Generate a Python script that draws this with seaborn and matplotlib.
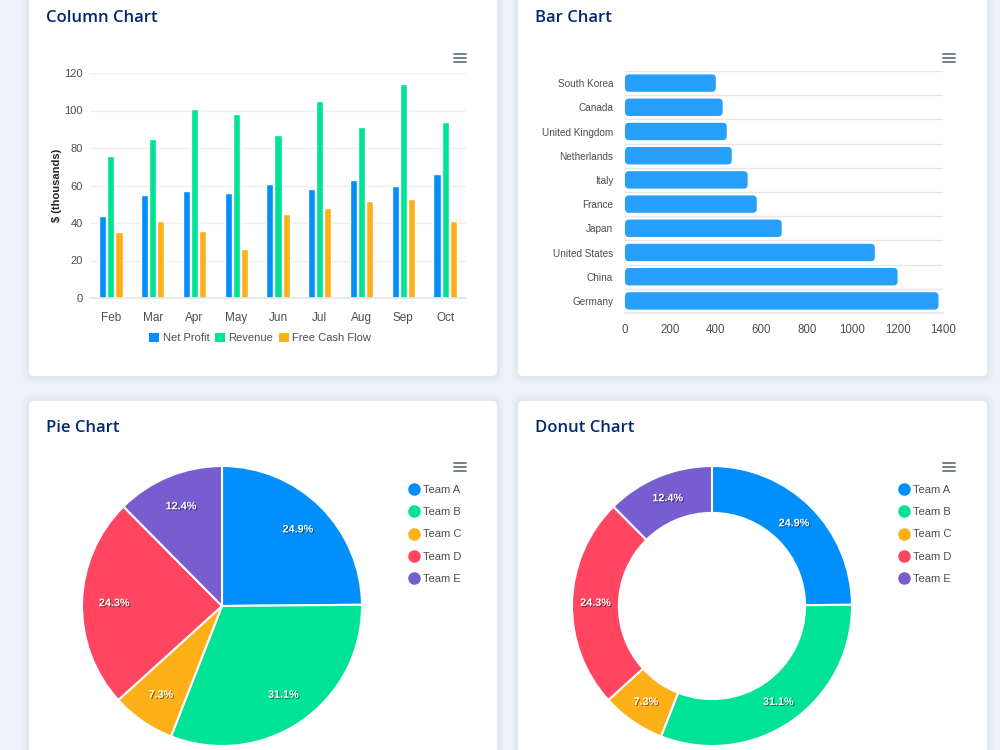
import numpy as np, pandas as pd, matplotlib
matplotlib.use("Agg"); import matplotlib.pyplot as plt
import matplotlib.patheffects as pe
from matplotlib.patches import FancyBboxPatch
from matplotlib.lines import Line2D
import seaborn as sns

sns.set_theme(style="white")
plt.rcParams["font.family"] = ["Liberation Sans", "DejaVu Sans"]

# ---- data ----
months = ["Feb", "Mar", "Apr", "May", "Jun", "Jul", "Aug", "Sep", "Oct"]
net_profit = [44, 55, 57, 56, 61, 58, 63, 60, 66]
revenue = [76, 85, 101, 98, 87, 105, 91, 114, 94]
free_cash_flow = [35, 41, 36, 26, 45, 48, 52, 53, 41]
series_names = ["Net Profit", "Revenue", "Free Cash Flow"]

countries = ["South Korea", "Canada", "United Kingdom", "Netherlands", "Italy",
             "France", "Japan", "United States", "China", "Germany"]
country_values = [400, 430, 448, 470, 540, 580, 690, 1100, 1200, 1380]

teams = ["Team A", "Team B", "Team C", "Team D", "Team E"]
team_values = [44, 55, 13, 43, 22]

COLS = ["#008FFB", "#00E396", "#FEB019", "#FF4560", "#775DD0"]
BG = "#edf1f9"; TITLE = "#012970"; LBL = "#4a4f52"; GRID = "#e6e6e6"

W, H = 1000, 750
def box(l, t, r, b):
    return [l / W, 1 - b / H, (r - l) / W, (b - t) / H]

fig = plt.figure(figsize=(10, 7.5), dpi=100, facecolor=BG)

# ---- cards (pixel layout, drawn in inches) ----
for l, t, r, b in [(29, -30, 497, 376), (518, -30, 987, 376), (29, 401, 497, 790), (518, 401, 987, 790)]:
    for k, a in [(6, 0.025), (3, 0.04)]:
        fig.add_artist(FancyBboxPatch(((l - k) / 100, (H - b - k) / 100), (r - l + 2 * k) / 100, (b - t + 2 * k) / 100,
                                      boxstyle="round,pad=0,rounding_size=0.08", transform=fig.dpi_scale_trans,
                                      fc="#5a6b9a", ec="none", alpha=a, zorder=0))
    fig.add_artist(FancyBboxPatch((l / 100, (H - b) / 100), (r - l) / 100, (b - t) / 100,
                                  boxstyle="round,pad=0,rounding_size=0.05", transform=fig.dpi_scale_trans,
                                  fc="white", ec="none", zorder=0.5))

for x, y, s in [(46, 18, "Column Chart"), (535, 18, "Bar Chart"), (46, 428, "Pie Chart"), (535, 428, "Donut Chart")]:
    fig.text(x / W, 1 - y / H, s, ha="left", va="center", fontsize=12, color=TITLE,
             family=["Open Sans", "DejaVu Sans"], fontweight="semibold")

for cx, cy in [(460, 58), (949, 58), (460, 467), (949, 467)]:
    for dy in (-4, 0, 4):
        fig.add_artist(Line2D([(cx - 6) / W, (cx + 6) / W], [1 - (cy + dy) / H] * 2,
                              transform=fig.transFigure, color="#6E8192", lw=1.4))

# ---- column chart ----
df = pd.DataFrame({"month": months * 3,
                   "value": net_profit + revenue + free_cash_flow,
                   "series": np.repeat(series_names, len(months))})
ax = fig.add_axes(box(90, 73, 466, 298), zorder=2)
ax.patch.set_alpha(0)
sns.barplot(data=df, x="month", y="value", hue="series", palette=COLS[:3], width=0.58, gap=0.12,
            saturation=1, ax=ax, legend=False)
ax.set_ylim(0, 120); ax.set_xlim(-0.5, len(months) - 0.5)
ax.set_yticks(range(0, 121, 20))
ax.grid(axis="y", color="#efefef", lw=1); ax.set_axisbelow(True)
for s in ["top", "right", "left"]:
    ax.spines[s].set_visible(False)
ax.spines["bottom"].set_color(GRID)
ax.set_xticks(np.arange(-0.5, len(months), 1), minor=True)
ax.tick_params(axis="x", which="minor", length=6, color=GRID, width=1)
ax.tick_params(axis="x", which="major", length=0, pad=10, labelsize=8.5, labelcolor=LBL)
ax.tick_params(axis="y", length=0, pad=5, labelsize=8, labelcolor=LBL)
ax.set_xlabel(""); ax.set_ylabel("$ (thousands)", fontsize=8, fontweight="bold", color="#222", labelpad=2)
handles = [plt.Rectangle((0, 0), 1, 1, fc=c, ec="none") for c in COLS[:3]]
fig.legend(handles, series_names, loc="center", bbox_to_anchor=(260 / W, 1 - 338 / H), ncol=3, frameon=False,
           fontsize=8, labelcolor=LBL, handlelength=0.9, handleheight=0.9, handletextpad=0.3, columnspacing=0.5)

# ---- bar chart ----
ax = fig.add_axes(box(625, 71, 943, 313), zorder=2)
ax.patch.set_alpha(0)
sns.barplot(x=country_values, y=countries, orient="h", color="#26A0FC", saturation=1, width=0.72, ax=ax)
ax.set_xlim(0, 1400); ax.set_ylim(len(countries) - 0.5, -0.5)
ax.set_xticks(range(0, 1401, 200))
# rounded bar ends
ux = 1400 / 318; uy = 1 / 24.2
for p in list(ax.patches):
    x0, y0, w, h = p.get_x(), p.get_y(), p.get_width(), p.get_height()
    ax.add_patch(FancyBboxPatch((x0, y0), w, h, boxstyle=f"round,pad=0,rounding_size={4 * ux}",
                                mutation_aspect=uy / ux, fc=p.get_facecolor(), ec="none"))
    p.set_visible(False)
ax.set_yticks(np.arange(-0.5, len(countries), 1), minor=True)
ax.grid(axis="y", which="minor", color=GRID, lw=1); ax.grid(axis="y", which="major", visible=False)
ax.set_axisbelow(True)
for s in ["top", "right", "left"]:
    ax.spines[s].set_visible(False)
ax.spines["bottom"].set_color(GRID)
ax.tick_params(axis="y", which="both", length=0, pad=8.5, labelsize=7.2, labelcolor=LBL)
ax.tick_params(axis="x", length=0, pad=8, labelsize=8.3, labelcolor=LBL)

# ---- pie & donut ----
shadow = [pe.SimplePatchShadow(offset=(0.8, -0.8), shadow_rgbFace="black", alpha=0.45), pe.Normal()]
for (l, r), hole in [((82, 362), None), ((572, 852), 0.335)]:
    ax = fig.add_axes(box(l, 466, r, 746), zorder=2)
    ax.patch.set_alpha(0)
    wp = dict(edgecolor="white", linewidth=1.5)
    if hole:
        wp["width"] = hole
    wedges, _, autot = ax.pie(team_values, colors=COLS, startangle=90, counterclock=False, radius=1,
                              autopct="%1.1f%%", pctdistance=0.77 if hole is None else 0.832, wedgeprops=wp)
    for t in autot:
        t.set_color("white"); t.set_fontsize(7.8); t.set_fontweight("bold"); t.set_path_effects(shadow)
    ax.set_xlim(-1, 1); ax.set_ylim(-1, 1); ax.set_aspect("equal")
    lh = [Line2D([], [], marker="o", ls="", color=c, markersize=8) for c in COLS]
    fig.legend(lh, teams, loc="upper left", bbox_to_anchor=((r + 49) / W, 1 - 485 / H), frameon=False,
               fontsize=8, labelcolor=LBL, handlelength=0.6, handletextpad=0.45, labelspacing=1.1,
               borderpad=0, borderaxespad=0)

fig.savefig("out.png", dpi=100, facecolor=BG)
